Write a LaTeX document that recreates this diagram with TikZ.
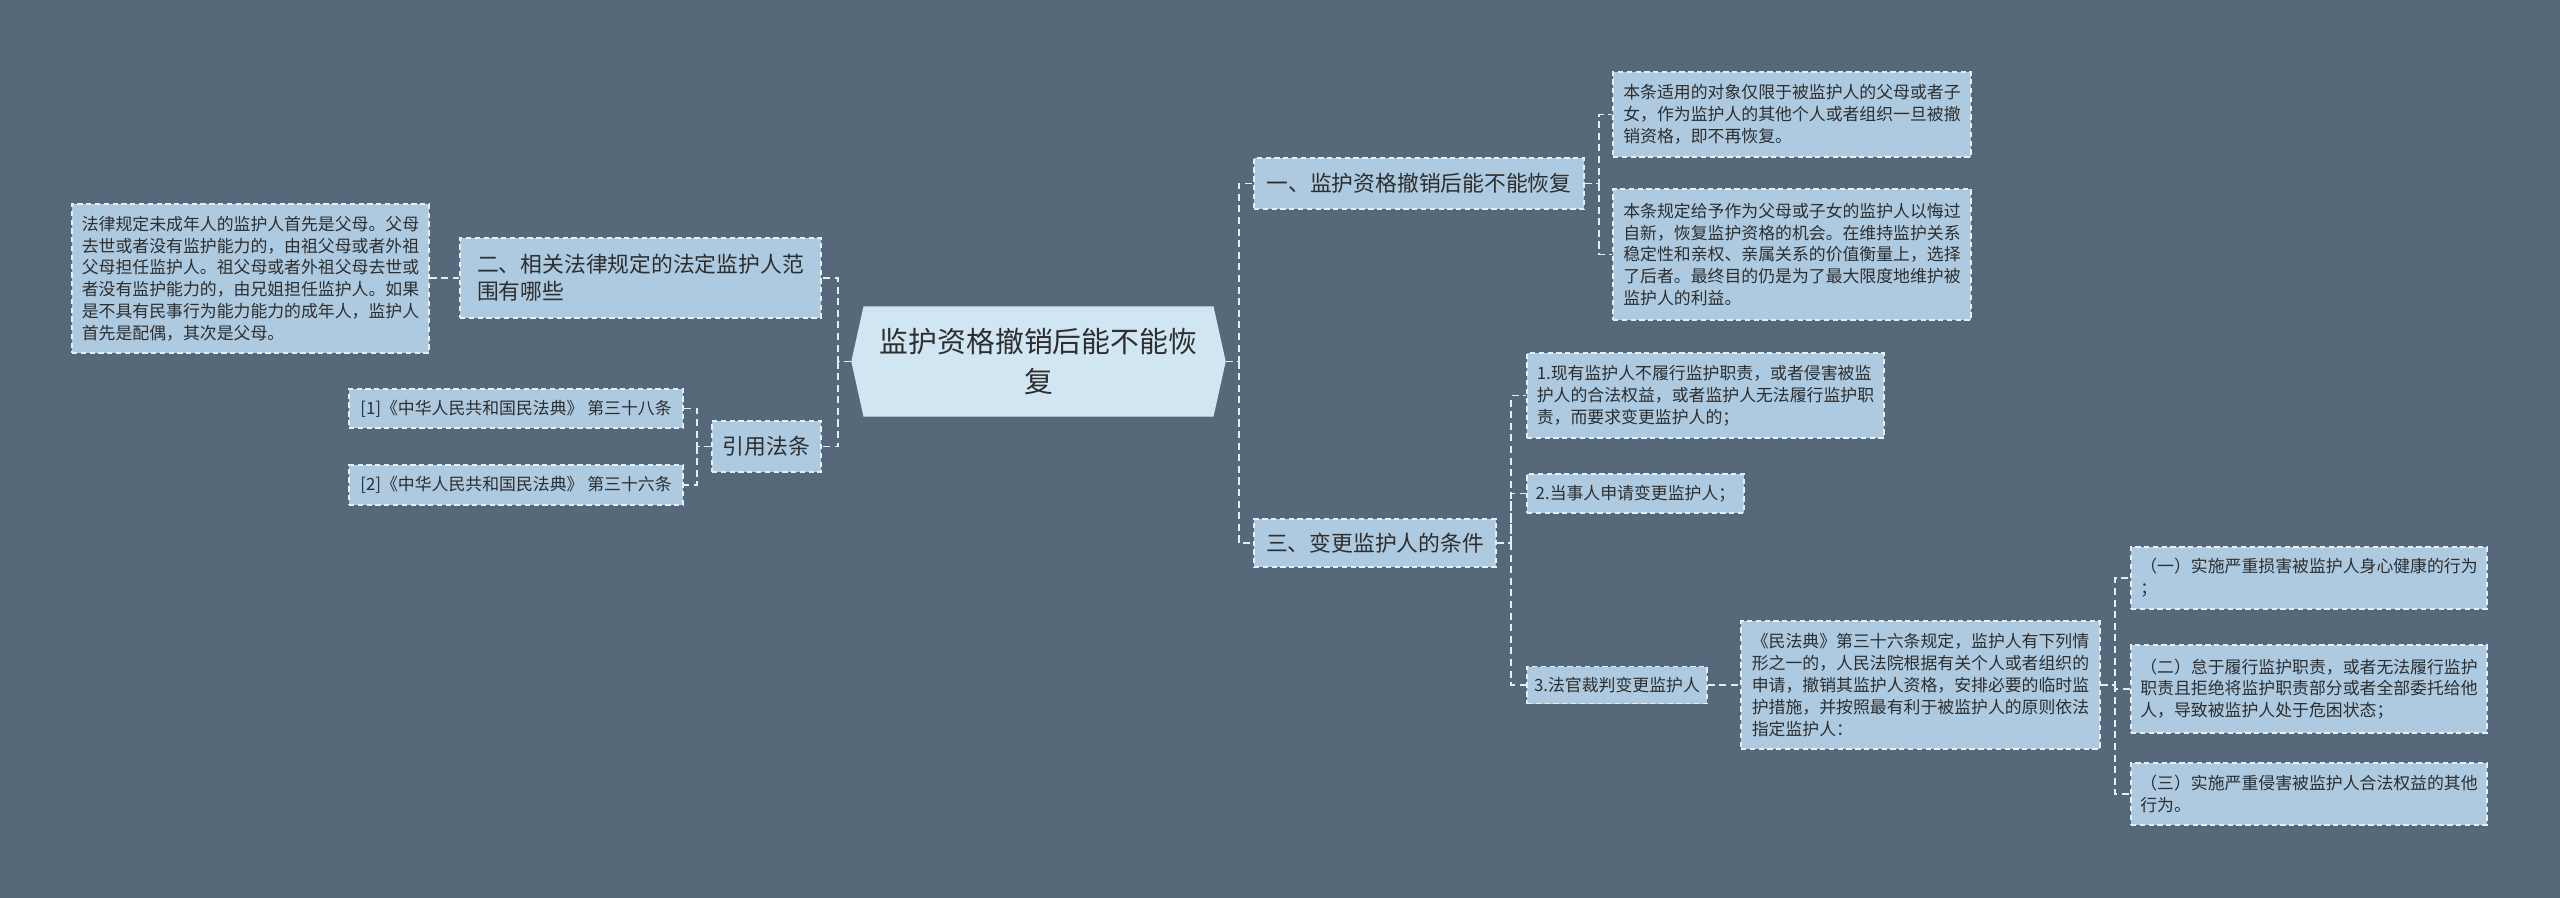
\documentclass[tikz,border=0pt]{standalone}
\usepackage{fontspec}
\setmainfont{Noto Sans CJK SC}
\usetikzlibrary{shapes.symbols}
\definecolor{bgslate}{HTML}{55697A}
\definecolor{boxblue}{HTML}{ADCAE1}
\definecolor{rootblue}{HTML}{D0E6F3}
\definecolor{dashline}{HTML}{E4EEF5}
\definecolor{inkgray}{HTML}{2E2E2E}

\begin{document}
\begin{tikzpicture}
    \fill[bgslate] (0,0) rectangle (25.6,-8.98);
    \useasboundingbox (0,0) rectangle (25.6,-8.98);

    % centre topic
    \node[signal, signal to=west and east, signal pointer angle=155, fill=rootblue, draw=rootblue,
          minimum width=3.73cm, minimum height=1.09cm, inner sep=0pt, align=center, text=inkgray,
          font=\fontsize{8.2}{11.3}\selectfont] (root) at (10.385,-3.615) {监护资格撤销后能不能恢\\复};

    \begin{scope}[every node/.style={draw=dashline, dash pattern=on 1.5pt off 1pt, line width=0.35pt,
                  fill=boxblue, text=inkgray, align=left, inner sep=0pt, font=\fontsize{6.2}{7.6}\selectfont}]
        \node[minimum width=3.61cm, minimum height=0.80cm] (rules) at (6.405,-2.78) {二、相关法律规定的法定监护人范\\围有哪些};
        \node[minimum width=1.09cm, minimum height=0.51cm] (cite) at (7.665,-4.465) {引用法条};
        \node[minimum width=3.30cm, minimum height=0.51cm] (revoke) at (14.19,-1.835) {一、监护资格撤销后能不能恢复};
        \node[minimum width=2.42cm, minimum height=0.48cm] (change) at (13.75,-5.43) {三、变更监护人的条件};
    \end{scope}

    \begin{scope}[every node/.style={draw=dashline, dash pattern=on 1.5pt off 1pt, line width=0.35pt,
                  fill=boxblue, text=inkgray, align=left, inner sep=0pt, font=\fontsize{4.8}{6.2}\selectfont}]
        \node[minimum width=3.57cm, minimum height=1.49cm] (law) at (2.505,-2.785) {法律规定未成年人的监护人首先是父母。父母\\去世或者没有监护能力的，由祖父母或者外祖\\父母担任监护人。祖父母或者外祖父母去世或\\者没有监护能力的，由兄姐担任监护人。如果\\是不具有民事行为能力能力的成年人，监护人\\首先是配偶，其次是父母。};
        \node[minimum width=3.34cm, minimum height=0.39cm] (ref1) at (5.16,-4.085) {[1]《中华人民共和国民法典》 第三十八条};
        \node[minimum width=3.34cm, minimum height=0.40cm] (ref2) at (5.16,-4.85) {[2]《中华人民共和国民法典》 第三十六条};
        \node[minimum width=3.58cm, minimum height=0.85cm] (only) at (17.92,-1.145) {本条适用的对象仅限于被监护人的父母或者子\\女，作为监护人的其他个人或者组织一旦被撤\\销资格，即不再恢复。};
        \node[minimum width=3.58cm, minimum height=1.31cm] (chance) at (17.92,-2.545) {本条规定给予作为父母或子女的监护人以悔过\\自新，恢复监护资格的机会。在维持监护关系\\稳定性和亲权、亲属关系的价值衡量上，选择\\了后者。最终目的仍是为了最大限度地维护被\\监护人的利益。};
        \node[minimum width=3.57cm, minimum height=0.85cm] (cond1) at (17.055,-3.955) {1.现有监护人不履行监护职责，或者侵害被监\\护人的合法权益，或者监护人无法履行监护职\\责，而要求变更监护人的；};
        \node[minimum width=2.17cm, minimum height=0.39cm] (cond2) at (16.355,-4.935) {2.当事人申请变更监护人；};
        \node[minimum width=1.80cm, minimum height=0.37cm] (cond3) at (16.17,-6.85) {3.法官裁判变更监护人};
        \node[minimum width=3.59cm, minimum height=1.28cm] (court) at (19.205,-6.85) {《民法典》第三十六条规定，监护人有下列情\\形之一的，人民法院根据有关个人或者组织的\\申请，撤销其监护人资格，安排必要的临时监\\护措施，并按照最有利于被监护人的原则依法\\指定监护人：};
        \node[minimum width=3.56cm, minimum height=0.62cm] (item1) at (23.09,-5.78) {（一）实施严重损害被监护人身心健康的行为\\；};
        \node[minimum width=3.56cm, minimum height=0.88cm] (item2) at (23.09,-6.89) {（二）怠于履行监护职责，或者无法履行监护\\职责且拒绝将监护职责部分或者全部委托给他\\人，导致被监护人处于危困状态；};
        \node[minimum width=3.56cm, minimum height=0.62cm] (item3) at (23.09,-7.94) {（三）实施严重侵害被监护人合法权益的其他\\行为。};
    \end{scope}

    \coordinate (lbus) at (8.38,-3.615);
    \coordinate (fbus) at (6.97,-4.465);
    \coordinate (rbus) at (12.39,-3.615);
    \coordinate (abus) at (15.99,-1.835);
    \coordinate (cbus) at (15.11,-5.43);
    \coordinate (dbus) at (21.15,-6.85);

    \begin{scope}[dashline, dash pattern=on 2pt off 1.3pt, line width=0.55pt]
        \draw (root.west) -- (lbus) |- (rules.east);
        \draw (lbus) |- (cite.east);
        \draw (law.east |- rules.west) -- (rules.west);
        \draw (cite.west) -- (fbus) |- (ref1.east);
        \draw (fbus) |- (ref2.east);
        \draw (root.east) -- (rbus) |- (revoke.west);
        \draw (rbus) |- (change.west);
        \draw (revoke.east) -- (abus) |- (only.west);
        \draw (abus) |- (chance.west);
        \draw (change.east) -- (cbus) |- (cond1.west);
        \draw (cbus) |- (cond2.west);
        \draw (cbus) |- (cond3.west);
        \draw (cond3.east) -- (court.west);
        \draw (court.east) -- (dbus) |- (item1.west);
        \draw (dbus) |- (item2.west);
        \draw (dbus) |- (item3.west);
    \end{scope}
\end{tikzpicture}
\end{document}
